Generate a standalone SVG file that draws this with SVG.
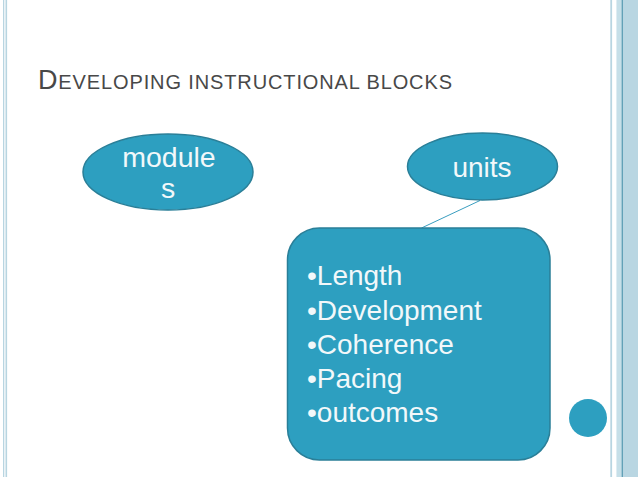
<svg xmlns="http://www.w3.org/2000/svg" width="638" height="479" viewBox="0 0 638 479">
<style>
.shape{fill:#2d9fc0;stroke:#2a7f98;stroke-width:1.5}
.lbl{font-family:"Liberation Sans",Arial,sans-serif;fill:#f2f8fa}
.deco{fill:#b8d5e1}
</style>
<rect width="638" height="479" fill="#ffffff"/>
<g id="frame">
<rect class="deco" x="3" y="0" width="1.3" height="477"/>
<rect class="deco" x="5.5" y="0" width="1.6" height="477"/>
<rect class="deco" x="610.3" y="0" width="1.8" height="477"/>
<rect x="616.7" y="0" width="21.3" height="477" fill="#b9d6e2"/>
<rect x="616.7" y="0" width="4.5" height="477" fill="#c6dfe8"/>
<rect x="621.8" y="0" width="0.9" height="477" fill="#3f8aa5"/>
</g>
<text id="title" x="38" y="89" font-family="'Liberation Sans',Arial,sans-serif" fill="#484848" font-size="20" textLength="414" lengthAdjust="spacing"><tspan font-size="27">D</tspan>EVELOPING INSTRUCTIONAL BLOCKS</text>
<g id="connectors">
<line x1="480" y1="200.5" x2="421.5" y2="228" stroke="#3a9ec0" stroke-width="1"/>
</g>
<g id="modules">
<ellipse class="shape" cx="168" cy="172" rx="85" ry="38"/>
<text class="lbl" x="169" y="167" font-size="28.5" text-anchor="middle">module</text>
<text class="lbl" x="168" y="198" font-size="28.5" text-anchor="middle">s</text>
</g>
<g id="units">
<ellipse class="shape" cx="482.5" cy="166.5" rx="75" ry="33.5"/>
<text class="lbl" x="482" y="177" font-size="28" text-anchor="middle">units</text>
</g>
<g id="details">
<rect class="shape" x="287.5" y="228" width="262.5" height="232" rx="32" ry="32"/>
<text class="lbl" font-size="28">
<tspan x="307" y="285">•Length</tspan>
<tspan x="307" y="319.5">•Development</tspan>
<tspan x="307" y="354">•Coherence</tspan>
<tspan x="307" y="388">•Pacing</tspan>
<tspan x="307" y="422">•outcomes</tspan>
</text>
</g>
<g id="dot">
<circle cx="588" cy="418" r="19" fill="#2d9fc0"/>
</g>
</svg>
